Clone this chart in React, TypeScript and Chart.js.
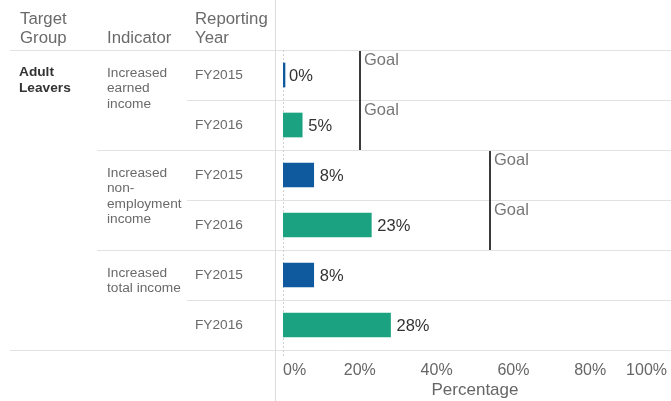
import React, { useEffect, useRef } from "react";
import { Chart, registerables } from "chart.js";

Chart.register(...registerables);

const years = ["FY2015", "FY2016", "FY2015", "FY2016", "FY2015", "FY2016"];
const values = [0, 5, 8, 23, 8, 28];
const targetGroupLines = [["Adult", "Leavers"]];
const indicatorLines = [
  ["Increased", "earned", "income"],
  ["Increased", "non-", "employment", "income"],
  ["Increased", "total income"],
];
const goals: (number | null)[] = [20, 54, null];
const xTicks = [0, 20, 40, 60, 80, 100];
const headers = [["Target", "Group"], ["Indicator"], ["Reporting", "Year"]];

const BLUE = "#0f5a9e";
const TEAL = "#1ba280";
const FONT = "'Liberation Sans', Arial, sans-serif";

const tablePlugin = {
  id: "tablePlugin",
  beforeDatasetsDraw(chart: any) {
    const { ctx, chartArea, scales } = chart;
    const y = scales.y;
    const W = chart.width;
    const H = chart.height;
    const half = (y.getPixelForValue(1) - y.getPixelForValue(0)) / 2;
    ctx.save();
    ctx.strokeStyle = "#e2e2e2";
    ctx.lineWidth = 1;
    const hline = (yy: number, x0: number) => {
      ctx.beginPath();
      ctx.moveTo(x0, Math.round(yy) + 0.5);
      ctx.lineTo(W, Math.round(yy) + 0.5);
      ctx.stroke();
    };
    hline(chartArea.top, 10);
    for (let i = 0; i < years.length; i++) {
      const bottom = y.getPixelForValue(i) + half;
      if (i === years.length - 1) hline(bottom, 10);
      else if (i % 2 === 1) hline(bottom, 97);
      else hline(bottom, 187);
    }
    // vertical separator
    ctx.strokeStyle = "#dcdcdc";
    ctx.beginPath();
    ctx.moveTo(275.5, 0);
    ctx.lineTo(275.5, H);
    ctx.stroke();
    // zero line
    const x0 = Math.round(scales.x.getPixelForValue(0)) + 0.5;
    ctx.strokeStyle = "#d0d0d0";
    ctx.setLineDash([2, 2]);
    ctx.beginPath();
    ctx.moveTo(x0, chartArea.top);
    ctx.lineTo(x0, chartArea.bottom + 6);
    ctx.stroke();
    ctx.restore();
  },
  afterDraw(chart: any) {
    const { ctx, scales } = chart;
    const y = scales.y;
    const x = scales.x;
    const half = (y.getPixelForValue(1) - y.getPixelForValue(0)) / 2;
    ctx.save();
    // headers
    ctx.fillStyle = "#6a6a6a";
    ctx.font = `16.8px ${FONT}`;
    ctx.textBaseline = "middle";
    ctx.textAlign = "left";
    const headerX = [20, 107, 195];
    headers.forEach((lines, i) => {
      const n = lines.length;
      lines.forEach((t, j) => {
        const yy = 38 - (n - 1 - j) * 19;
        ctx.fillText(t, headerX[i], yy);
      });
    });
    // target group
    ctx.fillStyle = "#333";
    ctx.font = `bold 13.7px ${FONT}`;
    targetGroupLines.forEach((lines, g) => {
      lines.forEach((t, j) => {
        ctx.fillText(t, 19, y.getPixelForValue(g * 6) - half + 22 + j * 16);
      });
    });
    // indicators
    ctx.fillStyle = "#6a6a6a";
    ctx.font = `13.7px ${FONT}`;
    indicatorLines.forEach((lines, g) => {
      const top = y.getPixelForValue(g * 2) - half;
      lines.forEach((t, j) => {
        ctx.fillText(t, 107, top + 23 + j * 15.5);
      });
    });
    // years
    years.forEach((t, i) => {
      ctx.fillText(t, 195, y.getPixelForValue(i));
    });
    // value labels
    ctx.fillStyle = "#333";
    ctx.font = `16.5px ${FONT}`;
    values.forEach((v, i) => {
      ctx.fillText(`${v}%`, x.getPixelForValue(v) + 6, y.getPixelForValue(i) + 1);
    });
    // goals
    goals.forEach((gv, g) => {
      if (gv === null) return;
      const gx = Math.round(x.getPixelForValue(gv));
      const top = y.getPixelForValue(g * 2) - half;
      const bottom = y.getPixelForValue(g * 2 + 1) + half;
      ctx.strokeStyle = "#3a3a3a";
      ctx.lineWidth = 2;
      ctx.beginPath();
      ctx.moveTo(gx, top + 1);
      ctx.lineTo(gx, bottom);
      ctx.stroke();
      ctx.fillStyle = "#777";
      ctx.font = `16.5px ${FONT}`;
      for (let k = 0; k < 2; k++) {
        const rt = y.getPixelForValue(g * 2 + k) - half;
        ctx.fillText("Goal", gx + 4, rt + 10);
      }
    });
    ctx.restore();
  },
};

export default function App() {
  const ref = useRef<HTMLCanvasElement | null>(null);
  useEffect(() => {
    if (!ref.current) return;
    const chart = new Chart(ref.current, {
      type: "bar",
      data: {
        labels: years,
        datasets: [
          {
            data: values,
            backgroundColor: years.map((yr) => (yr === "FY2015" ? BLUE : TEAL)),
            barThickness: 24,
            minBarLength: 2,
          },
        ],
      },
      options: {
        indexAxis: "y",
        animation: false,
        responsive: true,
        maintainAspectRatio: false,
        layout: { padding: { left: 283, right: 4, top: 50, bottom: 0 } },
        plugins: { legend: { display: false }, tooltip: { enabled: false } },
        scales: {
          y: { display: false },
          x: {
            min: 0,
            max: 100,
            afterBuildTicks: (axis: any) => {
              axis.ticks = xTicks.map((v) => ({ value: v }));
            },
            afterFit: (axis: any) => {
              axis.height = 51;
              axis.paddingLeft = 0;
              axis.paddingRight = 0;
            },
            grid: { display: false, drawTicks: false },
            border: { display: false },
            ticks: {
              color: "#666",
              font: { size: 16, family: FONT },
              padding: 11,
              align: "inner",
              maxRotation: 0,
              callback: (v: any) => `${v}%`,
            },
            title: {
              display: true,
              text: "Percentage",
              color: "#666",
              font: { size: 17, family: FONT },
              padding: { top: 1, bottom: 0 },
            },
          },
        },
      },
      plugins: [tablePlugin],
    } as any);
    return () => chart.destroy();
  }, []);
  return (
    <div style={{ position: "fixed", left: 0, top: 0, width: 671, height: 401, background: "#fff" }}>
      <canvas ref={ref} />
    </div>
  );
}
